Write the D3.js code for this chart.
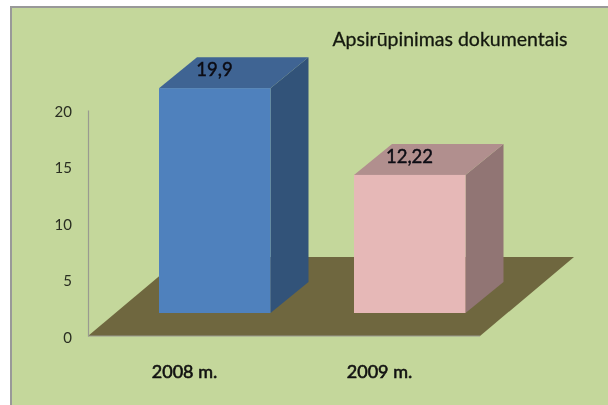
<!DOCTYPE html>
<html><head><meta charset="utf-8">
<script src="https://cdnjs.cloudflare.com/ajax/libs/d3/7.8.5/d3.min.js"></script>
<style>html,body{margin:0;padding:0;background:#fff}svg{display:block;filter:blur(0.4px)}text{font-family:Lato,"Open Sans",sans-serif}</style>
</head><body><svg id="c" width="608" height="405"></svg>
<script>
const categories = ["2008 m.", "2009 m."];
const values = [19.9, 12.22];
const valueLabels = ["19,9", "12,22"];
const yTicks = [0, 5, 10, 15, 20];
const title = "Apsirūpinimas dokumentais";
const frontColors = ["#4f81bd", "#e6b8b7"];
const topColors = ["#3f6493", "#b18f8e"];
const sideColors = ["#325379", "#917574"];

const svg = d3.select("#c");
svg.append("rect").attr("x", 11).attr("y", 7).attr("width", 600).attr("height", 402)
  .attr("fill", "#c4d79b").attr("stroke", "#999").attr("stroke-width", 2);

const x = d3.scaleBand().domain(categories).range([89, 479]);
const y = d3.scaleLinear().domain([0, 20]).range([336, 110]);
const barW = 111.5, floorL = 88, floorR = 480, floorDx = 94, floorDy = -79, inDx = 27, inDy = -23, dDx = 38, dDy = -31;
const path = p => "M" + p.map(q => q.join(",")).join("L") + "Z";

// floor
svg.append("path").attr("fill", "#6f673f")
  .attr("d", path([[floorL, y(0)], [floorR, y(0)], [floorR + floorDx, y(0) + floorDy], [floorL + floorDx, y(0) + floorDy]]));

// axes
const ax = svg.append("g").attr("transform", "translate(88,0)")
  .call(d3.axisLeft(y).tickValues(yTicks).tickSize(0).tickPadding(16));
ax.select(".domain").attr("stroke", "#9a9a90").attr("stroke-width", 1.2);
ax.selectAll("text").attr("font-size", 15).attr("fill", "#2a2e22").attr("dy", "0.41em");
svg.append("line").attr("x1", floorL).attr("x2", floorR).attr("y1", y(0)).attr("y2", y(0))
  .attr("stroke", "#9a9a90").attr("stroke-width", 1.2);

// bars
const bars = svg.selectAll("g.bar").data(values).join("g").attr("class", "bar");
const left = (d, i) => x(categories[i]) + (x.bandwidth() - barW) / 2 + inDx + 1.25;
const base = y(0) + inDy;
const top_ = d => base - (y(0) - y(d));
bars.append("path").attr("fill", (d, i) => sideColors[i]).attr("d", (d, i) => {
  const r = left(d, i) + barW;
  return path([[r, top_(d)], [r + dDx, top_(d) + dDy], [r + dDx, base + dDy], [r, base]]);
});
bars.append("path").attr("fill", (d, i) => topColors[i]).attr("d", (d, i) => {
  const l = left(d, i), r = l + barW;
  return path([[l, top_(d)], [l + dDx, top_(d) + dDy], [r + dDx, top_(d) + dDy], [r, top_(d)]]);
});
bars.append("rect").attr("fill", (d, i) => frontColors[i])
  .attr("x", left).attr("y", top_).attr("width", barW).attr("height", d => base - top_(d));
bars.append("text").text((d, i) => valueLabels[i])
  .attr("x", (d, i) => left(d, i) + 55.5).attr("y", d => top_(d) - 12)
  .attr("text-anchor", "middle").attr("font-size", 18.5).attr("font-weight", 400)
  .attr("stroke", "#0c0c14").attr("stroke-width", 0.45).attr("fill", "#0c0c14");

// category labels
svg.selectAll("text.cat").data(categories).join("text").attr("class", "cat").text(d => d)
  .attr("x", d => x(d) + x.bandwidth() / 2 - 2).attr("y", 378)
  .attr("text-anchor", "middle").attr("font-size", 18).attr("font-weight", 400)
  .attr("stroke", "#111").attr("stroke-width", 0.6).attr("fill", "#111");

svg.append("text").text(title).attr("x", 450).attr("y", 46).attr("text-anchor", "middle")
  .attr("font-size", 19.5).attr("font-weight", 400)
  .attr("stroke", "#14180f").attr("stroke-width", 0.3).attr("fill", "#14180f");
</script></body></html>
